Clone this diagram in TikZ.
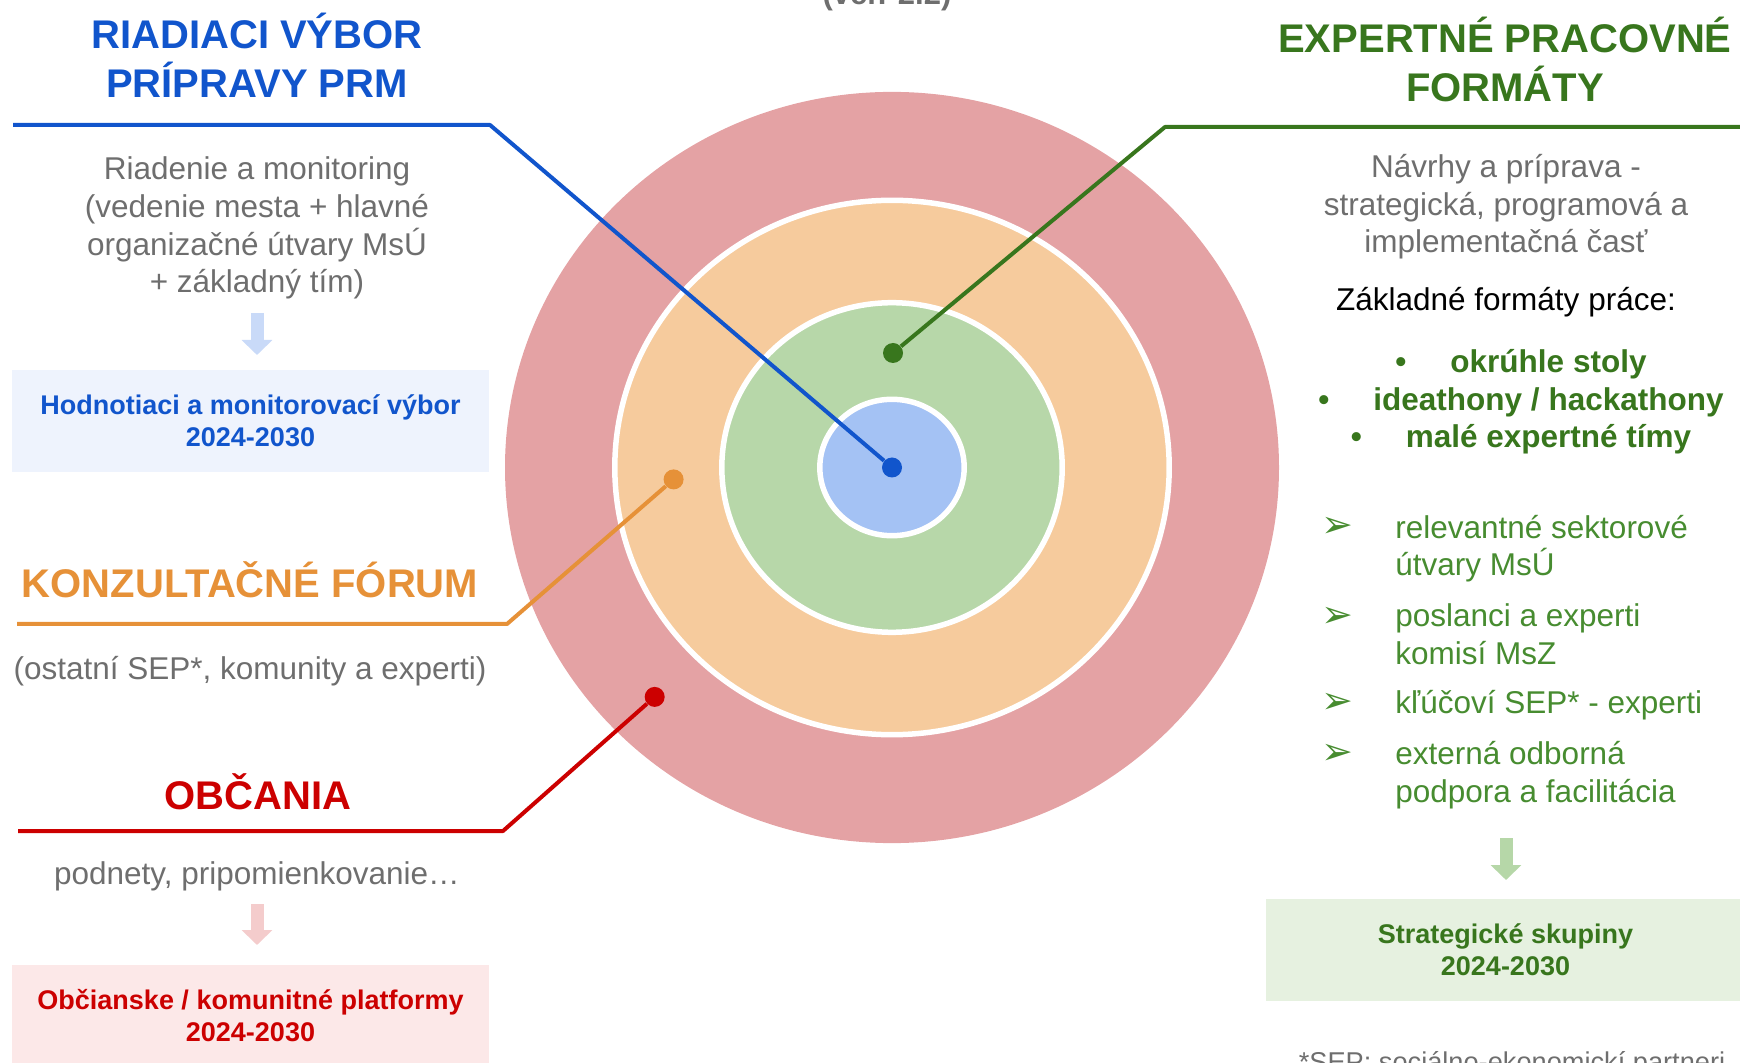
\documentclass[tikz,border=0pt]{standalone}
\usepackage{fontspec}
\setmainfont{Liberation Sans}
\newfontfamily\dingfont{DejaVu Sans}
\usetikzlibrary{arrows.meta}

\definecolor{ringred}{HTML}{E4A2A4}
\definecolor{ringorange}{HTML}{F6CB9D}
\definecolor{ringgreen}{HTML}{B7D7A9}
\definecolor{ringblue}{HTML}{A4C2F4}
\definecolor{leadblue}{HTML}{1155CC}
\definecolor{leadorange}{HTML}{E69138}
\definecolor{leadred}{HTML}{CC0000}
\definecolor{leadgreen}{HTML}{38761D}
\definecolor{listgreen}{HTML}{478C30}
\definecolor{textgray}{HTML}{6E6E6E}
\definecolor{boxblue}{HTML}{EEF3FD}
\definecolor{boxred}{HTML}{FCE8E8}
\definecolor{boxgreen}{HTML}{E6F1E0}
\definecolor{arrowblue}{HTML}{C9DAF8}
\definecolor{arrowred}{HTML}{F4CCCC}
\definecolor{arrowgreen}{HTML}{B6D7A8}

\tikzset{
  heading/.style={font=\bfseries\fontsize{20}{24.5}\selectfont, align=center, anchor=base, inner sep=0pt},
  body/.style={text=textgray, font=\fontsize{15.75}{18.85}\selectfont, align=center, anchor=base, inner sep=0pt},
  boxlabel/.style={font=\bfseries\fontsize{13.5}{16}\selectfont, align=center,
    minimum width=238.5pt, minimum height=51pt, inner sep=0pt},
  leader/.style={line width=2pt, line join=round},
  dot/.style={circle, inner sep=0pt, minimum size=10pt},
  ring/.style={draw=white, line width=2.75pt},
  fatarrow/.style={line width=6.5pt, -{Triangle[width=15pt,length=7.5pt]}},
  item/.style={text=listgreen, font=\fontsize{15.75}{18.85}\selectfont, align=left, anchor=base west, inner sep=0pt},
  chevron/.style={text=listgreen, font=\dingfont\fontsize{19}{19}\selectfont, anchor=base, inner sep=0pt}
}

\begin{document}
\begin{tikzpicture}[x=0.5pt, y=-0.5pt]
  \useasboundingbox (0,0) rectangle (1740,1063);

  % target rings
  \coordinate (mid) at (892,467.5);
  \fill[ringred] (mid) ellipse [x radius=193.5pt, y radius=187.8pt];
  \draw[ring, fill=ringorange] (mid) ellipse [x radius=138.6pt, y radius=133.6pt];
  \draw[ring, fill=ringgreen] (mid) ellipse [x radius=85.1pt, y radius=82.4pt];
  \draw[ring, fill=ringblue] (mid) ellipse [x radius=36.1pt, y radius=34.1pt];

  % version, cut at the top
  \node[body, font=\bfseries\fontsize{15.5}{18}\selectfont] (version) at (887,5) {(ver. 2.2)};

  % left column: steering committee (base = last line)
  \node[heading, text=leadblue] (riadiaci) at (257,98) {RIADIACI VÝBOR\\PRÍPRAVY PRM};
  \node[body] (riadenie) at (257,293) {Riadenie a monitoring\\(vedenie mesta + hlavné\\organizačné útvary MsÚ\\+ základný tím)};
  \node[boxlabel, fill=boxblue, text=leadblue] (hodnotenie) at (250.5,421) {Hodnotiaci a monitorovací výbor\\2024-2030};

  % left column: forum and citizens
  \node[heading, text=leadorange] (forum) at (250,597) {KONZULTAČNÉ FÓRUM};
  \node[body] (ostatni) at (250,679) {(ostatní SEP*, komunity a experti)};
  \node[heading, text=leadred] (obcania) at (258,809) {OBČANIA};
  \node[body] (podnety) at (257,884) {podnety, pripomienkovanie…};
  \node[boxlabel, fill=boxred, text=leadred] (platformy) at (250.5,1016) {Občianske / komunitné platformy\\2024-2030};

  % right column: expert formats
  \node[heading, text=leadgreen] (expertne) at (1505,102) {EXPERTNÉ PRACOVNÉ\\FORMÁTY};
  \node[body] (navrhy) at (1506,253) {Návrhy a príprava -\\strategická, programová a\\implementačná časť};
  \node[body, text=black] (zakladne) at (1506,311) {Základné formáty práce:};
  \node[body, text=leadgreen, font=\bfseries\fontsize{15.75}{18.9}\selectfont] (formaty) at (1521,448)
    {\textbullet\hspace{22pt}okrúhle stoly\\\textbullet\hspace{22pt}ideathony / hackathony\\\textbullet\hspace{22pt}malé expertné tímy};

  \node[chevron] (ch1) at (1337,538) {➢};
  \node[item] (sektor) at (1395,576) {relevantné sektorové\\útvary MsÚ};
  \node[chevron] (ch2) at (1337,627) {➢};
  \node[item] (poslanci) at (1395,664.6) {poslanci a experti\\komisí MsZ};
  \node[chevron] (ch3) at (1337,713.4) {➢};
  \node[item] (klucovi) at (1395,713.4) {kľúčoví SEP* - experti};
  \node[chevron] (ch4) at (1337,764.5) {➢};
  \node[item] (externa) at (1395,802) {externá odborná\\podpora a facilitácia};

  \node[boxlabel, fill=boxgreen, text=leadgreen, minimum width=239.5pt] (skupiny) at (1505.5,950) {Strategické skupiny\\2024-2030};
  \node[body, font=\fontsize{13.6}{16}\selectfont] (sep) at (1512,1071.5) {*SEP: sociálno-ekonomickí partneri};

  % fat arrows to the boxes
  \coordinate (ablue1) at (257,313);
  \coordinate (ablue2) at (257,355);
  \draw[fatarrow, arrowblue] (ablue1) -- (ablue2);
  \coordinate (ared1) at (257,904);
  \coordinate (ared2) at (257,945);
  \draw[fatarrow, arrowred] (ared1) -- (ared2);
  \coordinate (agreen1) at (1506,838);
  \coordinate (agreen2) at (1506,880);
  \draw[fatarrow, arrowgreen] (agreen1) -- (agreen2);

  % leader lines with dots
  \node[dot, fill=leadblue] (dotblue) at (mid) {};
  \node[dot, fill=leadgreen] (dotgreen) at (893,353) {};
  \node[dot, fill=leadorange] (dotorange) at (673.6,479.4) {};
  \node[dot, fill=leadred] (dotred) at (654.7,696.9) {};

  \coordinate (bluebend) at (490,125);
  \coordinate (blueend) at (13,125);
  \draw[leader, leadblue] (dotblue) -- (bluebend) -- (blueend);
  \coordinate (greenbend) at (1165,127);
  \coordinate (greenend) at (1742,127);
  \draw[leader, leadgreen] (dotgreen) -- (greenbend) -- (greenend);
  \coordinate (orangebend) at (507,624);
  \coordinate (orangeend) at (17,624);
  \draw[leader, leadorange] (dotorange) -- (orangebend) -- (orangeend);
  \coordinate (redbend) at (503,831);
  \coordinate (redend) at (18,831);
  \draw[leader, leadred] (dotred) -- (redbend) -- (redend);
\end{tikzpicture}
\end{document}
